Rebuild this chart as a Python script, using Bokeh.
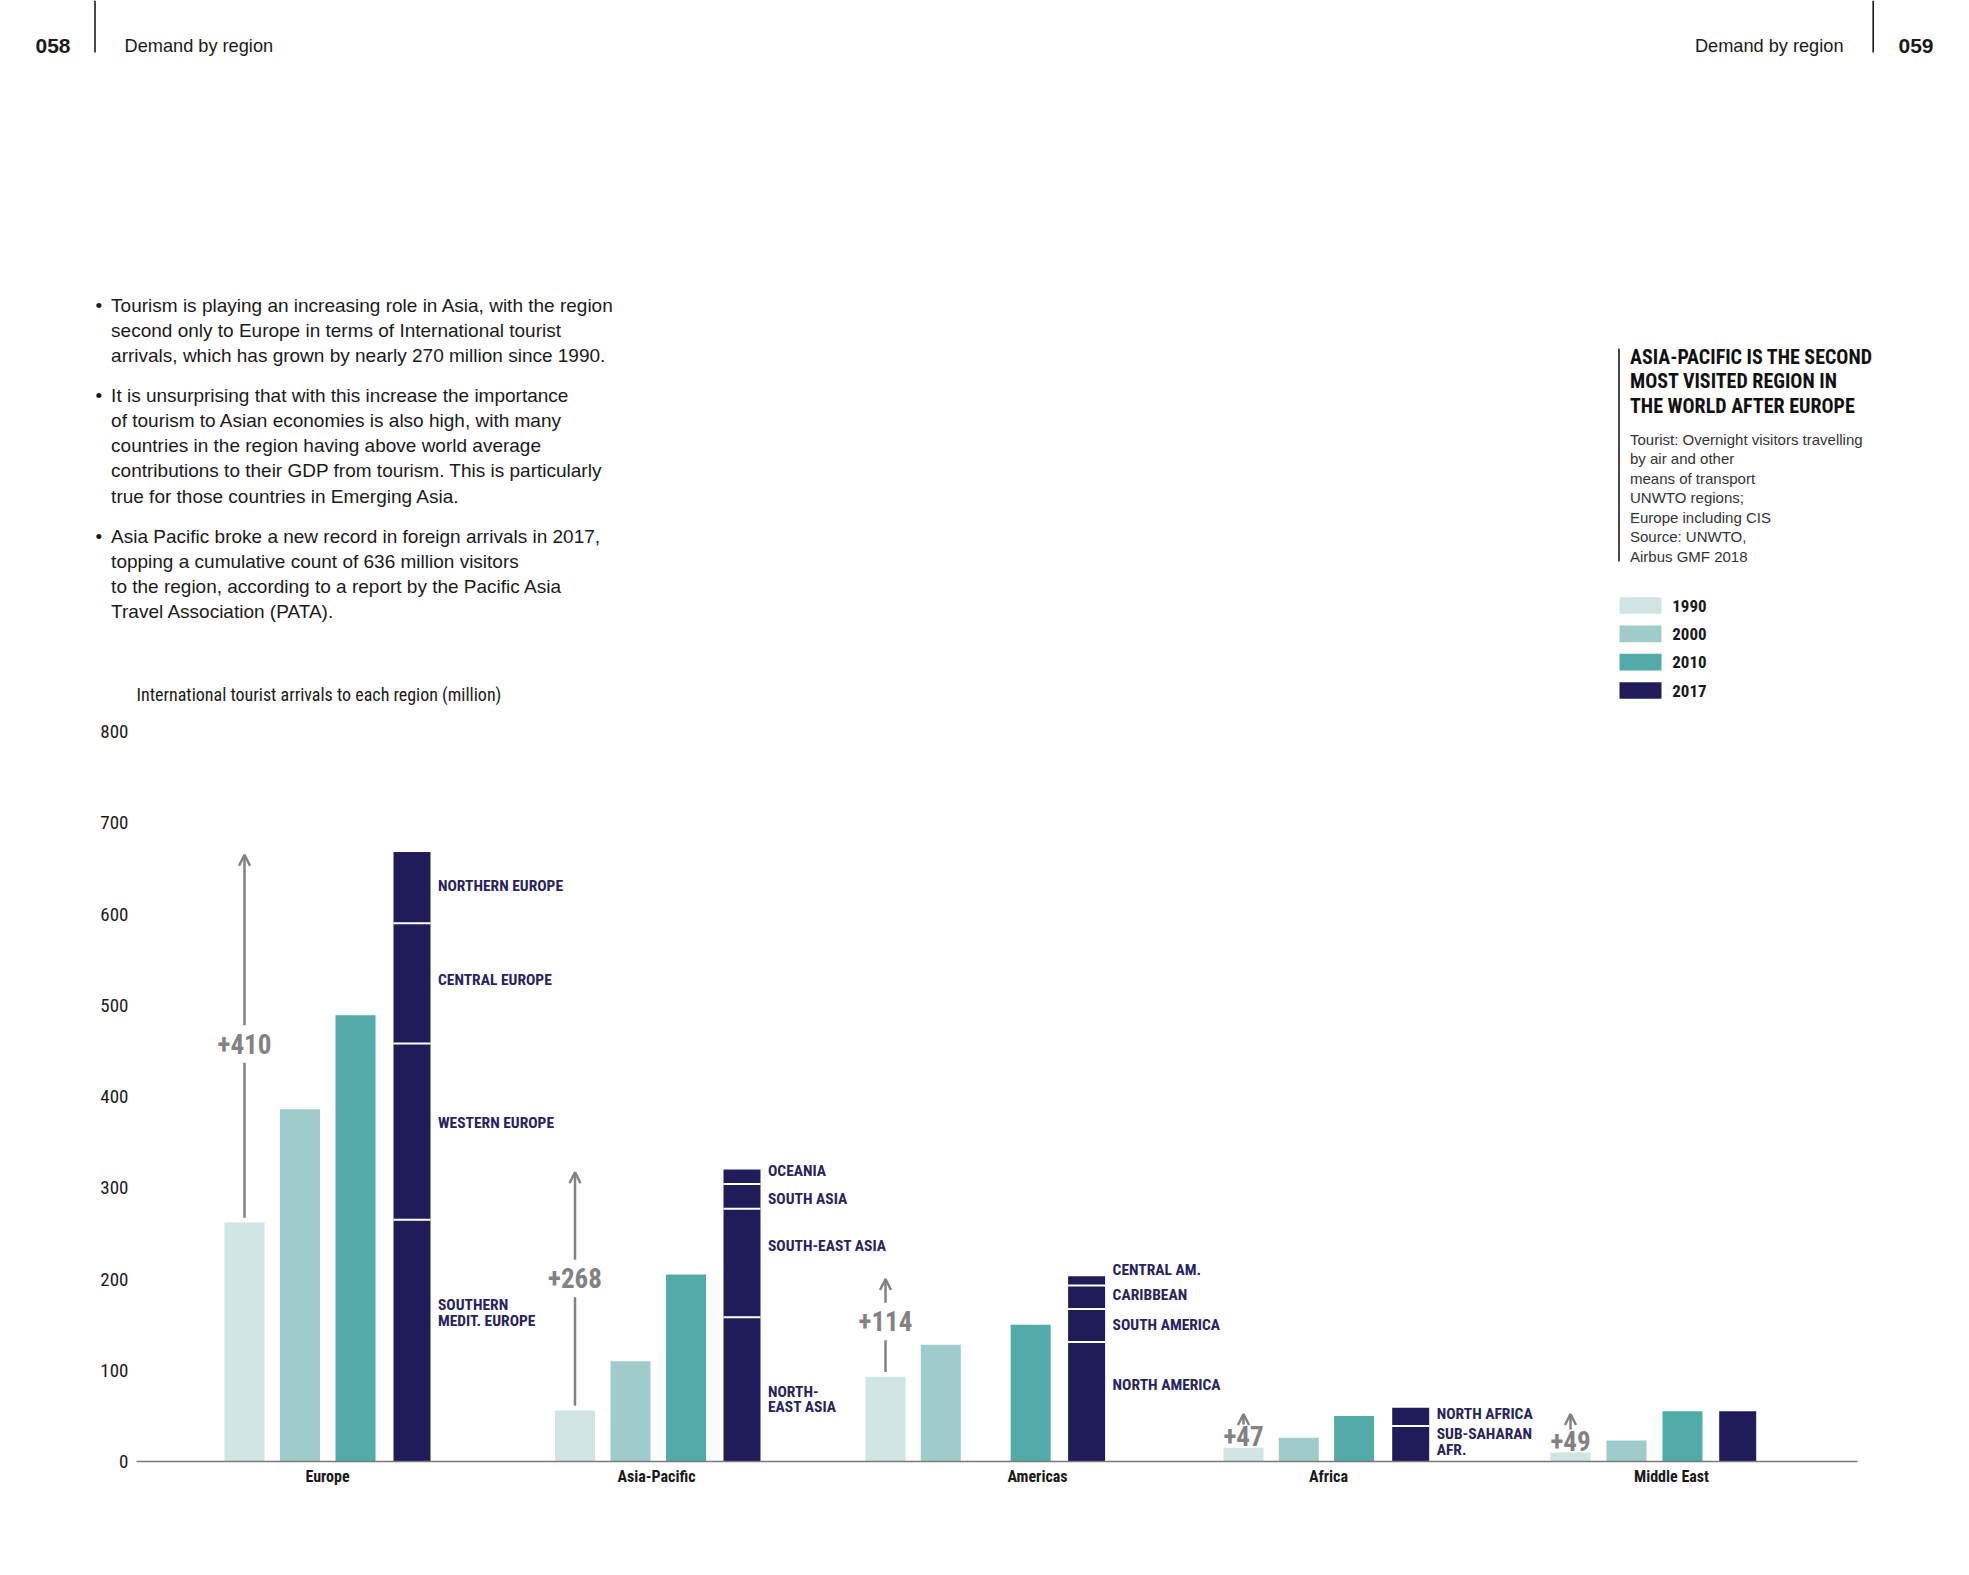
from bokeh.plotting import figure
from bokeh.models import (Range1d, FixedTicker, Arrow, OpenHead)
from bokeh.core.properties import value
from bokeh.embed import file_html
from bokeh.resources import INLINE

# ---------------- data ----------------
regions = ["Europe", "Asia-Pacific", "Americas", "Africa", "Middle East"]
years = ["1990", "2000", "2010", "2017"]
arrivals_1990 = [262, 56, 93, 15, 10]
arrivals_2000 = [386, 110, 128, 26, 23]
arrivals_2010 = [489, 205, 150, 50, 55]

europe_2017_names = ["SOUTHERN\nMEDIT. EUROPE", "WESTERN EUROPE", "CENTRAL EUROPE", "NORTHERN EUROPE"]
europe_2017 = [265, 193, 132, 78]
asia_2017_names = ["NORTH-\nEAST ASIA", "SOUTH-EAST ASIA", "SOUTH ASIA", "OCEANIA"]
asia_2017 = [158, 119, 27, 16]
americas_2017_names = ["NORTH AMERICA", "SOUTH AMERICA", "CARIBBEAN", "CENTRAL AM."]
americas_2017 = [131, 36, 26, 10]
africa_2017_names = ["SUB-SAHARAN\nAFR.", "NORTH AFRICA"]
africa_2017 = [39, 20]
middle_east_2017_names = [""]
middle_east_2017 = [55]

growth_labels = ["+410", "+268", "+114", "+47", "+49"]
y_ticks = [0, 100, 200, 300, 400, 500, 600, 700, 800]

# ---------------- layout (positions, not data) ----------------
bar_x_1990 = [244, 574.5, 885, 1243, 1570]
year_offsets = [[0, 55.5, 111, 167.5], [0, 55.5, 111, 167], [0, 55.3, 145.2, 201.1],
                [0, 55.3, 110.6, 167.2], [0, 56, 112, 167.2]]
category_label_x = [327, 656, 1037, 1328, 1671]
segment_label_y = [[163, 371, 528, 631], [68, 236, 288, 318], [84, 150, 182, 210], [21, 52], [0]]
growth_label_y = [458, 201, 154, 27.5, 22]
arrow_tip_drop = [3, 3, 3, 7, 3]

C1990, C2000, C2010, C2017 = "#d0e4e3", "#9fcbca", "#52aaa9", "#201c5a"
NAVY = "#27235f"
GREY = "#828282"
INK = "#1a1a1a"
SANS = "Liberation Sans, Arial, Helvetica, sans-serif"
NARROW = "Liberation Sans Narrow, Roboto Condensed, DejaVu Sans Condensed, sans-serif"

PAGE_W = 1953
TOP_H = 706
FRAME_L, FRAME_R, FRAME_T, FRAME_B = 136, 1857, 731, 1461

# ================= top part of the page (texts, legend) =================
top = figure(width=PAGE_W, height=TOP_H, x_range=Range1d(0, PAGE_W), y_range=Range1d(TOP_H, 0),
             x_axis_type=None, y_axis_type=None, output_backend="svg", toolbar_location=None,
             min_border=0)
top.outline_line_color = None
top.background_fill_color = "white"
top.border_fill_color = "white"


def texts(fig, xs, ys, strs, size, font=SANS, style="normal", color=INK, align="left"):
    fig.text(x=xs, y=ys, text=strs, text_font=value(font), text_font_size=f"{size}px",
             text_font_style=style, text_color=color, text_align=align, text_baseline="middle")


# header
texts(top, [35], [45], ["058"], 21, style="bold")
texts(top, [124], [45.5], ["Demand by region"], 18.2)
texts(top, [1843], [45.5], ["Demand by region"], 18.2, align="right")
texts(top, [1898], [45], ["059"], 21, style="bold")
top.segment(x0=[94.5, 1872.7], y0=[0, 0], x1=[94.5, 1872.7], y1=[52, 52], line_color=INK, line_width=1.6)

# bullets
paragraphs = [
    ["Tourism is playing an increasing role in Asia, with the region",
     "second only to Europe in terms of International tourist",
     "arrivals, which has grown by nearly 270 million since 1990."],
    ["It is unsurprising that with this increase the importance",
     "of tourism to Asian economies is also high, with many",
     "countries in the region having above world average",
     "contributions to their GDP from tourism. This is particularly",
     "true for those countries in Emerging Asia."],
    ["Asia Pacific broke a new record in foreign arrivals in 2017,",
     "topping a cumulative count of 636 million visitors",
     "to the region, according to a report by the Pacific Asia",
     "Travel Association (PATA)."],
]
para_top = [304.5, 395, 535.5]
bx, by, lx, ly, lt = [], [], [], [], []
for t0, lines in zip(para_top, paragraphs):
    bx.append(95); by.append(t0)
    for k, line in enumerate(lines):
        lx.append(110.6); ly.append(t0 + k * 25.15); lt.append(line)
texts(top, bx, by, ["\u2022"] * len(bx), 19)
texts(top, lx, ly, lt, 19)

# side panel
top.segment(x0=[1618.5], y0=[348], x1=[1618.5], y1=[561], line_color=INK, line_width=1.6)
title_lines = ["ASIA-PACIFIC IS THE SECOND", "MOST VISITED REGION IN", "THE WORLD AFTER EUROPE"]
texts(top, [1629.5] * 3, [356, 380.5, 405.5], title_lines, 20, font=NARROW, style="bold", color="#111111")
notes = ["Tourist: Overnight visitors travelling", "by air and other", "means of transport",
         "UNWTO regions;", "Europe including CIS", "Source: UNWTO,", "Airbus GMF 2018"]
texts(top, [1629.5] * len(notes), [438.5 + k * 19.5 for k in range(len(notes))], notes, 15,
      color="#333333")

# chart title
texts(top, [136], [694], ["International tourist arrivals to each region (million)"], 18, font=NARROW)

# legend: one swatch per year, coloured like the chart series
legend_y = [605, 633.3, 661.7, 690]
top.rect(x=[1640] * 4, y=legend_y, width=42, height=16.7,
         fill_color=[C1990, C2000, C2010, C2017], line_color=None)
texts(top, [1671.7] * 4, legend_y, years, 17, font=NARROW, style="bold")

# ================= chart =================
p = figure(frame_width=FRAME_R - FRAME_L, frame_height=FRAME_B - FRAME_T,
           x_range=Range1d(FRAME_L, FRAME_R), y_range=Range1d(0, 800),
           output_backend="svg", toolbar_location=None,
           min_border_left=FRAME_L, min_border_right=80,
           min_border_top=FRAME_T - TOP_H, min_border_bottom=70)
p.outline_line_color = None
p.grid.visible = False
p.background_fill_color = "white"
p.border_fill_color = "white"

p.yaxis.ticker = FixedTicker(ticks=y_ticks)
p.yaxis.axis_line_color = None
p.yaxis.major_tick_line_color = None
p.yaxis.minor_tick_line_color = None
p.yaxis.major_tick_out = 0
p.yaxis.major_tick_in = 0
p.yaxis.major_label_text_font = NARROW
p.yaxis.major_label_text_font_size = "19px"
p.yaxis.major_label_text_color = INK
p.yaxis.major_label_standoff = 8

p.xaxis.ticker = FixedTicker(ticks=category_label_x)
p.xaxis.major_label_overrides = {x: r for x, r in zip(category_label_x, regions)}
p.xaxis.axis_line_color = "#7a7a7a"
p.xaxis.axis_line_width = 1.6
p.xaxis.major_tick_line_color = None
p.xaxis.minor_tick_line_color = None
p.xaxis.major_tick_out = 0
p.xaxis.major_tick_in = 0
p.xaxis.major_label_text_font = NARROW
p.xaxis.major_label_text_font_style = "bold"
p.xaxis.major_label_text_font_size = "16px"
p.xaxis.major_label_text_color = INK
p.xaxis.major_label_standoff = 5


def xs(k):
    return [b + off[k] for b, off in zip(bar_x_1990, year_offsets)]


p.vbar(x=xs(0), top=arrivals_1990, bottom=0, width=40, fill_color=C1990, line_color=None)
p.vbar(x=xs(1), top=arrivals_2000, bottom=0, width=40, fill_color=C2000, line_color=None)
p.vbar(x=xs(2), top=arrivals_2010, bottom=0, width=40, fill_color=C2010, line_color=None)

stacks = [europe_2017, asia_2017, americas_2017, africa_2017, middle_east_2017]
stack_names = [europe_2017_names, asia_2017_names, americas_2017_names, africa_2017_names,
               middle_east_2017_names]
x2017 = xs(3)
sx, sb, st = [], [], []
div_x0, div_x1, div_y = [], [], []
lab_x, lab_y, lab_t = [], [], []
totals = []
for i, segs in enumerate(stacks):
    base = 0
    for j, v in enumerate(segs):
        sx.append(x2017[i]); sb.append(base); st.append(base + v)
        base += v
        if j < len(segs) - 1:
            div_x0.append(x2017[i] - 18.5); div_x1.append(x2017[i] + 18.5); div_y.append(base)
        if stack_names[i][j]:
            lab_x.append(x2017[i] + 26); lab_y.append(segment_label_y[i][j]); lab_t.append(stack_names[i][j])
    totals.append(base)

p.vbar(x=sx, bottom=sb, top=st, width=37, fill_color=C2017, line_color=None)
p.segment(x0=div_x0, y0=div_y, x1=div_x1, y1=div_y, line_color="white", line_width=2)
p.text(x=lab_x, y=lab_y, text=lab_t, text_font=value(NARROW), text_font_size="15.5px",
       text_font_style="bold", text_color=NAVY, text_baseline="middle", text_line_height=0.88)

# growth arrows
x1990 = xs(0)
for i in range(5):
    bxi = x1990[i]
    lyi = growth_label_y[i]
    tip = totals[i] - arrow_tip_drop[i]
    if i < 3:
        p.segment(x0=[bxi], y0=[arrivals_1990[i] + 5], x1=[bxi], y1=[lyi - 21],
                  line_color=GREY, line_width=2.5)
        start = lyi + 20
    else:
        start = lyi + 13
    p.add_layout(Arrow(x_start=bxi, y_start=start, x_end=bxi, y_end=tip,
                       line_color=GREY, line_width=2.5,
                       end=OpenHead(size=11, line_color=GREY, line_width=2.5)))
p.text(x=x1990, y=growth_label_y, text=growth_labels, text_font=value(NARROW),
       text_font_size="27px", text_font_style="bold", text_color=GREY,
       text_align="center", text_baseline="middle")

open("out.html", "w").write(file_html([top, p], INLINE, "Demand by region"))
